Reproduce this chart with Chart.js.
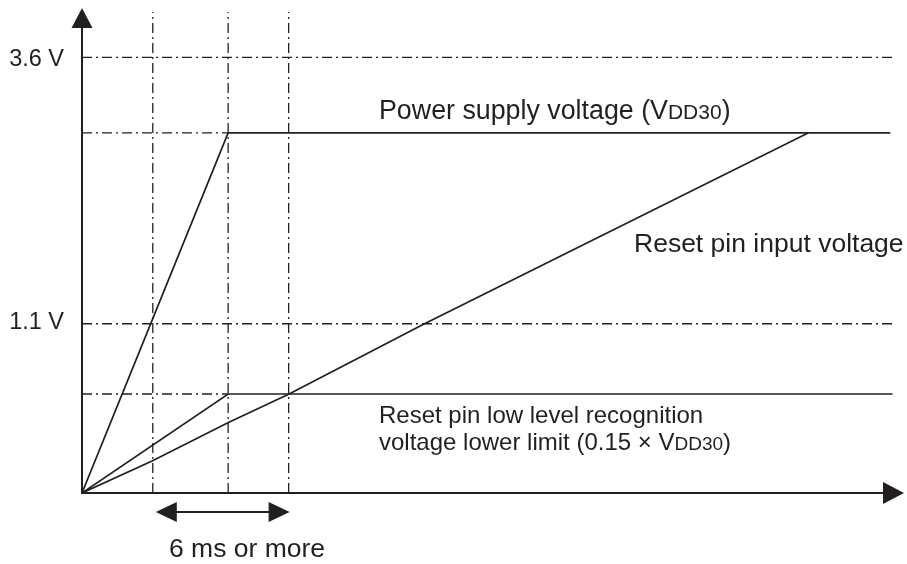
<!DOCTYPE html>
<html>
<head>
<meta charset="utf-8">
<script src="https://cdn.jsdelivr.net/npm/chart.js@4/dist/chart.umd.min.js"></script>
<style>
  html, body { margin: 0; padding: 0; background: #ffffff; }
  canvas { display: block; }
</style>
</head>
<body>
<canvas id="c" width="907" height="564"></canvas>
<script>
// ---- Data (time in ms, voltage in schematic units where VDD30 level = 1) ----
const tMarks      = [3.1, 6.4, 9.05];        // vertical guide lines (ms)
const levelNames  = ['3.6 V', 'VDD30', '1.1 V', '0.15 x VDD30'];
const levelValues = [1.21, 1.0, 0.47, 0.275]; // horizontal guide levels
const supplyT     = [0, 6.4, 35.4];          // power supply voltage (VDD30)
const supplyV     = [0, 1.0, 1.0];
const resetT      = [0, 3.07, 6.39, 9.07, 15.0, 31.8]; // reset pin input voltage
const resetV      = [0, 0.089, 0.195, 0.275, 0.47, 1.0];
const lowT        = [0, 6.4, 35.5];          // low level recognition lower limit
const lowV        = [0, 0.275, 0.275];
const tickLabels  = ['3.6 V', '1.1 V'];
const xMax = 36, yMax = 1.347, guideTop = 1.336, lineEnd = 35.5;

const ink = '#231f20';
const pts = (xs, ys) => xs.map((v, i) => ({ x: v, y: ys[i] }));
const dashDot = [10, 4, 2, 4];

const guide = (data) => ({
  data, showLine: true, pointRadius: 0, borderColor: ink,
  borderWidth: 1.3, borderDash: dashDot, tension: 0, fill: false
});
const solid = (data) => ({
  data, showLine: true, pointRadius: 0, borderColor: ink,
  borderWidth: 1.7, tension: 0, fill: false
});

const v36 = levelValues[0], vdd = levelValues[1], v11 = levelValues[2], vlow = levelValues[3];

const datasets = [
  guide([{x: 0, y: v36}, {x: lineEnd, y: v36}]),
  guide([{x: 0, y: vdd}, {x: tMarks[1], y: vdd}]),
  guide([{x: 0, y: v11}, {x: lineEnd, y: v11}]),
  guide([{x: 0, y: vlow}, {x: tMarks[1], y: vlow}]),
  ...tMarks.map(t => guide([{x: t, y: 0}, {x: t, y: guideTop}])),
  solid(pts(supplyT, supplyV)),
  solid(pts(resetT, resetV)),
  solid(pts(lowT, lowV))
];

const schematic = {
  id: 'schematic',
  afterDatasetsDraw(chart) {
    const { ctx, scales: { x, y } } = chart;
    const X = v => x.getPixelForValue(v), Y = v => y.getPixelForValue(v);
    const ox = X(0), oy = Y(0);
    ctx.save();
    ctx.strokeStyle = ink; ctx.fillStyle = ink;

    // axes
    const yTip = Y(yMax), xTip = X(xMax);
    ctx.lineWidth = 2;
    ctx.beginPath();
    ctx.moveTo(ox, oy); ctx.lineTo(ox, yTip + 18);
    ctx.moveTo(ox - 1, oy); ctx.lineTo(xTip - 18, oy);
    ctx.stroke();
    // arrow heads
    ctx.beginPath();
    ctx.moveTo(ox, yTip); ctx.lineTo(ox - 10.5, yTip + 20); ctx.lineTo(ox + 10.5, yTip + 20); ctx.closePath();
    ctx.fill();
    ctx.beginPath();
    ctx.moveTo(xTip, oy); ctx.lineTo(xTip - 21, oy - 11); ctx.lineTo(xTip - 21, oy + 11); ctx.closePath();
    ctx.fill();

    // double arrow for the 6 ms interval
    const ay = oy + 19, ax1 = X(tMarks[0]) + 3, ax2 = X(tMarks[2]) + 1;
    ctx.lineWidth = 2;
    ctx.beginPath(); ctx.moveTo(ax1 + 15, ay); ctx.lineTo(ax2 - 15, ay); ctx.stroke();
    ctx.beginPath();
    ctx.moveTo(ax1, ay); ctx.lineTo(ax1 + 21, ay - 10); ctx.lineTo(ax1 + 21, ay + 10); ctx.closePath();
    ctx.fill();
    ctx.beginPath();
    ctx.moveTo(ax2, ay); ctx.lineTo(ax2 - 21, ay - 10); ctx.lineTo(ax2 - 21, ay + 10); ctx.closePath();
    ctx.fill();

    // text
    const F = s => s + 'px "Liberation Sans", Arial, Helvetica, sans-serif';
    ctx.textBaseline = 'alphabetic';
    ctx.textAlign = 'right';
    ctx.font = F(23.5);
    ctx.fillText(tickLabels[0], ox - 18, Y(v36) + 9);
    ctx.fillText(tickLabels[1], ox - 18, Y(v11) + 5);

    ctx.textAlign = 'left';
    const run = (parts, x0, yb) => {
      let xx = x0;
      for (const [txt, size] of parts) {
        ctx.font = F(size);
        ctx.fillText(txt, xx, yb);
        xx += ctx.measureText(txt).width;
      }
    };
    run([['Power supply voltage (V', 26.8], ['DD30', 21], [')', 26.8]], 379, Y(vdd) - 14);
    ctx.font = F(26.5);
    ctx.fillText('Reset pin input voltage', 634, 252);
    ctx.font = F(24);
    ctx.fillText('Reset pin low level recognition', 379, Y(vlow) + 29);
    run([['voltage lower limit (0.15 \u00d7 V', 24], ['DD30', 19], [')', 24]], 379, Y(vlow) + 56);
    ctx.font = F(26.5);
    ctx.fillText('6 ms or more', 169, 557);
    ctx.restore();
  }
};

new Chart(document.getElementById('c'), {
  type: 'scatter',
  data: { datasets },
  options: {
    responsive: false,
    devicePixelRatio: 1,
    animation: false,
    layout: { padding: { left: 82, right: 3, top: 8, bottom: 71 } },
    plugins: { legend: { display: false }, tooltip: { enabled: false } },
    scales: {
      x: { type: 'linear', min: 0, max: xMax, display: false },
      y: { type: 'linear', min: 0, max: yMax, display: false }
    },
    elements: { line: { borderCapStyle: 'butt' } }
  },
  plugins: [schematic]
});
</script>
</body>
</html>
